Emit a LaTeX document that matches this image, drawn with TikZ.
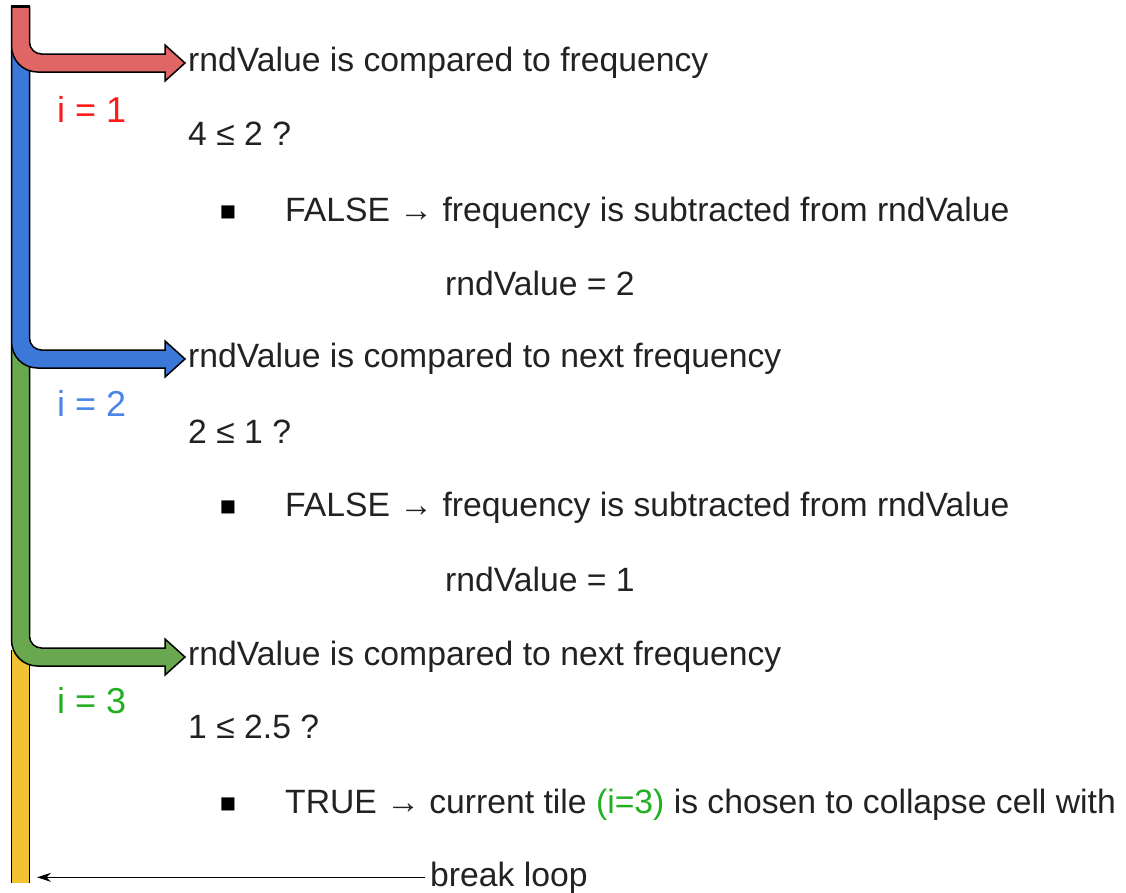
\documentclass[tikz,border=0pt]{standalone}
\usepackage{fontspec}
\setmainfont{Liberation Sans}
\usetikzlibrary{positioning,arrows.meta}

\definecolor{barred}{HTML}{E06666}
\definecolor{barblue}{HTML}{3C78D8}
\definecolor{bargreen}{HTML}{6AA84F}
\definecolor{baryellow}{HTML}{F1C232}
\definecolor{labred}{HTML}{FF1A1A}
\definecolor{labblue}{HTML}{4A86E8}
\definecolor{labgreen}{HTML}{22B022}
\definecolor{txtgray}{HTML}{222222}

\tikzset{
  txt/.style={anchor=base west, inner sep=0pt, text=txtgray, font=\fontsize{33.7}{40}\selectfont},
  idx/.style={anchor=base west, inner sep=0pt, font=\fontsize{36}{42}\selectfont},
  bul/.style={inner sep=0pt, text=black, font=\fontsize{27}{30}\selectfont}
}

% bent loop arrow: colour, top of the bar, y of the shaft
\newcommand{\looparrow}[3]{%
  \filldraw[#1, draw=black, line width=1.5pt]
    (11.5,#2) -- (29.5,#2) -- (29.5,#3-9-12)
    arc[start angle=180, end angle=90, radius=12] -- (165,#3-9)
    -- (165,#3-18) -- (185,#3) -- (165,#3+18) -- (165,#3+9)
    -- (11.5+26,#3+9) arc[start angle=90, end angle=180, radius=26] -- cycle;}

\begin{document}
\begin{tikzpicture}[x=1pt, y=-1pt]
    \useasboundingbox (0,0) rectangle (1126,892);

    % Loop bar, drawn bottom to top so each bend covers the next bar
    \fill[baryellow] (11.5,650) rectangle (29.5,883);
    \draw[line width=1.5pt] (11.5,650) -- (11.5,883) (29.5,650) -- (29.5,883);
    \looparrow{bargreen}{345}{657}
    \looparrow{barblue}{50}{359}
    \looparrow{barred}{7}{63}
    \draw[line width=3pt] (10.75,6) -- (30.25,6);

    % Arrow tips
    \coordinate (tip1) at (185,63);
    \coordinate (tip2) at (185,359);
    \coordinate (tip3) at (185,657);
    \coordinate (loopend) at (37,878);

    % i = 1
    \node[txt, anchor=west] (cmp1) [right=3pt of tip1] {rndValue is compared to frequency};
    \node[idx, text=labred] (i1) at (57,122) {i = 1};
    \node[txt] (q1) at (188,145) {4 ≤ 2 ?};
    \node[txt] (res1) at (285,221) {FALSE → frequency is subtracted from rndValue};
    \node[txt] (val1) at (445,295) {rndValue = 2};

    % i = 2
    \node[txt, anchor=west] (cmp2) [right=3pt of tip2] {rndValue is compared to next frequency};
    \node[idx, text=labblue] (i2) at (57,416) {i = 2};
    \node[txt] (q2) at (188,443) {2 ≤ 1 ?};
    \node[txt] (res2) at (285,516) {FALSE → frequency is subtracted from rndValue};
    \node[txt] (val2) at (445,591) {rndValue = 1};

    % i = 3
    \node[txt, anchor=west] (cmp3) [right=3pt of tip3] {rndValue is compared to next frequency};
    \node[idx, text=labgreen] (i3) at (57,713) {i = 3};
    \node[txt] (q3) at (188,738) {1 ≤ 2.5 ?};
    \node[txt] (res3) at (285,813) {TRUE → current tile \textcolor{labgreen}{(i=3)} is chosen to collapse cell with};

    % Bullets
    \foreach \n/\y in {1/213, 2/508, 3/805}
      \node[bul] (bul\n) at (228,\y) {■};

    % Leaving the loop
    \node[txt] (brk) at (430,886) {break loop};
    \draw[-{Stealth[length=14pt,width=9pt]}, line width=1.3pt]
      ([xshift=-5pt]brk.west) -- (loopend |- brk.west);
\end{tikzpicture}
\end{document}
